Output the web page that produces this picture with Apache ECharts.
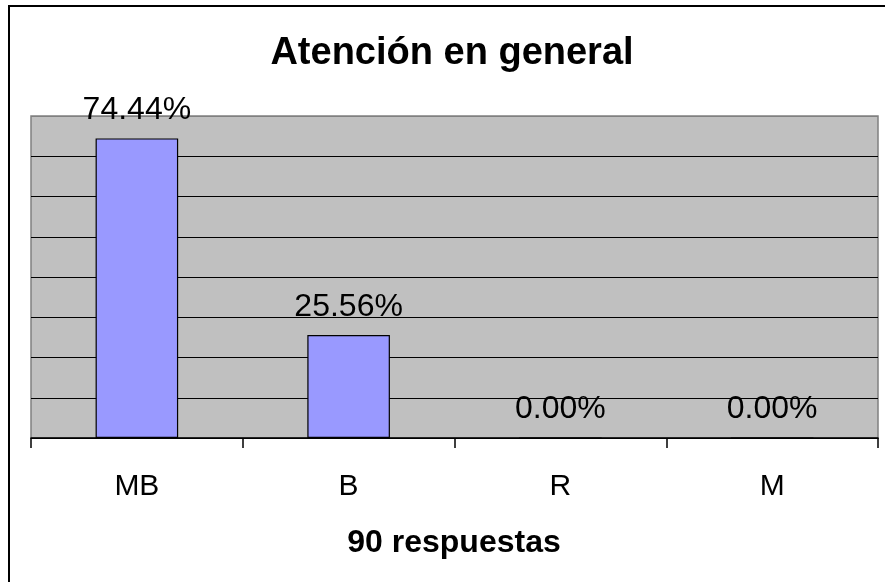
<!DOCTYPE html>
<html>
<head>
<meta charset="utf-8">
<script src="https://cdn.jsdelivr.net/npm/echarts@6/dist/echarts.min.js"></script>
<style>html,body{margin:0;padding:0;background:#fff}#c{width:885px;height:582px}</style>
</head>
<body>
<div id="c"></div>
<script>
const titleText = 'Atención en general';
const xTitle = '90 respuestas';
const categories = ['MB', 'B', 'R', 'M'];
const values = [74.44, 25.56, 0, 0];
const yMin = 0, yMax = 80, yStep = 10;

const FONT = "'Liberation Sans', Arial, sans-serif";
const chart = echarts.init(document.getElementById('c'), null, {renderer: 'canvas'});
const gridColors = [];
for (let v = yMin; v <= yMax; v += yStep) gridColors.push(v === yMax ? '#808080' : '#000000');

chart.setOption({
  animation: false,
  backgroundColor: '#ffffff',
  textStyle: {fontFamily: FONT},
  grid: {left: 31, right: 7, top: 116, bottom: 144, show: true,
         backgroundColor: '#C0C0C0', borderColor: '#808080', borderWidth: 1.5},
  xAxis: {
    type: 'category', data: categories,
    axisLine: {show: true, lineStyle: {color: '#000', width: 1.5}},
    axisTick: {show: true, length: 10, lineStyle: {color: '#000', width: 1.5}},
    axisLabel: {color: '#000', fontSize: 30, fontFamily: FONT, margin: 34},
    splitLine: {show: false}
  },
  yAxis: {
    type: 'value', min: yMin, max: yMax, interval: yStep,
    axisLine: {show: false}, axisTick: {show: false}, axisLabel: {show: false},
    splitLine: {show: true, lineStyle: {color: gridColors, width: 1.2}}
  },
  series: [{
    type: 'bar', data: values, barWidth: '39%',
    itemStyle: {color: '#9999FF', borderColor: '#000', borderWidth: 1.2},
    label: {show: true, position: 'top', distance: 12, color: '#000',
            fontSize: 32, fontFamily: FONT,
            formatter: p => p.value.toFixed(2) + '%'}
  }],
  graphic: [
    {type: 'rect', shape: {x: 9, y: 6, width: 900, height: 600}, silent: true,
     style: {fill: null, stroke: '#000', lineWidth: 2}},
    {type: 'text', x: 452, y: 54,
     style: {text: titleText, fill: '#000', font: "bold 38px " + FONT,
             textAlign: 'center', textVerticalAlign: 'middle'}},
    {type: 'text', x: 454, y: 543,
     style: {text: xTitle, fill: '#000', font: "bold 32px " + FONT,
             textAlign: 'center', textVerticalAlign: 'middle'}}
  ]
});
</script>
</body>
</html>
